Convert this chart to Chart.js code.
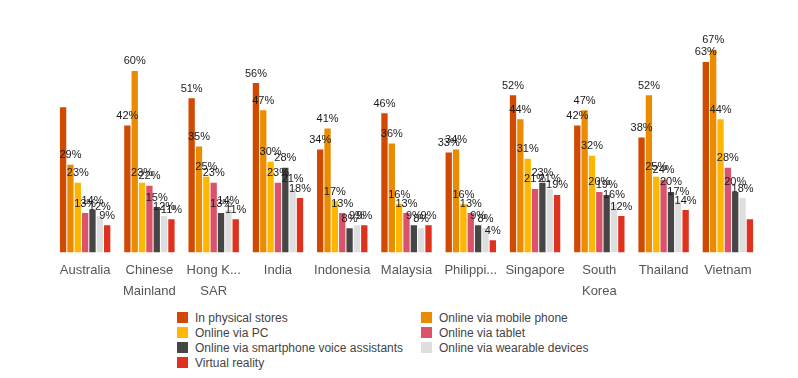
<!DOCTYPE html>
<html>
<head>
<meta charset="utf-8">
<script src="https://cdn.jsdelivr.net/npm/chart.js@4/dist/chart.umd.min.js"></script>
<style>
  body { margin: 0; background: #fff; }
  #wrap { position: relative; width: 798px; height: 378px; }
  #legend {
    position: absolute; left: 177px; top: 311px;
    display: grid; grid-template-columns: 244px 200px;
    font: 12px "Liberation Sans", Arial, sans-serif; color: #444;
  }
  #legend div { height: 15px; line-height: 15px; white-space: nowrap; }
  #legend span { display: inline-block; width: 11px; height: 11px; margin-right: 7px; vertical-align: -1px; }
</style>
</head>
<body>
<div id="wrap">
  <canvas id="myChart" width="798" height="302"></canvas>
  <div id="legend"></div>
</div>
<script>
"use strict";

const countries = ["Australia", ["Chinese", "Mainland"], ["Hong K...", "SAR"], "India", "Indonesia",
  "Malaysia", "Philippi...", "Singapore", ["South", "Korea"], "Thailand", "Vietnam"];

const seriesNames = ["In physical stores", "Online via mobile phone", "Online via PC", "Online via tablet",
  "Online via smartphone voice assistants", "Online via wearable devices", "Virtual reality"];
const seriesColors = ["#d04a02", "#eb8c00", "#ffb600", "#db536a", "#464646", "#dedede", "#e0301e"];

const physicalStores = [48, 42, 51, 56, 34, 46, 33, 52, 42, 38, 63];
const mobilePhone    = [29, 60, 35, 47, 41, 36, 34, 44, 47, 52, 67];
const viaPC          = [23, 23, 25, 30, 17, 16, 16, 31, 32, 25, 44];
const viaTablet      = [13, 22, 23, 23, 13, 13, 13, 21, 20, 24, 28];
const voiceAssist    = [14, 15, 13, 28, 8, 9, 9, 23, 19, 20, 20];
const wearables      = [12, 12, 14, 21, 9, 8, 8, 21, 16, 17, 18];
const virtualReality = [9, 11, 11, 18, 9, 9, 4, 19, 12, 14, 11];

// labels that the reference leaves out (series-category)
const hiddenLabels = ["0-0", "6-10"];

const allSeries = [physicalStores, mobilePhone, viaPC, viaTablet, voiceAssist, wearables, virtualReality];

const valueLabels = {
  id: "valueLabels",
  afterDatasetsDraw(chart) {
    const ctx = chart.ctx;
    ctx.save();
    ctx.font = "11px 'Liberation Sans', Arial, sans-serif";
    ctx.fillStyle = "#1a1a1a";
    ctx.textAlign = "center";
    ctx.textBaseline = "bottom";
    chart.data.datasets.forEach((ds, i) => {
      chart.getDatasetMeta(i).data.forEach((bar, j) => {
        if (hiddenLabels.includes(i + "-" + j)) return;
        ctx.fillText(ds.data[j] + "%", bar.x, bar.y - 4);
      });
    });
    ctx.restore();
  }
};

const ctx = document.getElementById("myChart").getContext("2d");
const myChart = new Chart(ctx, {
  type: "bar",
  data: {
    labels: countries,
    datasets: allSeries.map((d, i) => ({
      label: seriesNames[i],
      data: d,
      backgroundColor: seriesColors[i],
      barPercentage: 0.86,
      categoryPercentage: 0.8,
    })),
  },
  options: {
    responsive: false,
    animation: false,
    layout: { padding: { left: 53, right: 38, top: 12, bottom: 0 } },
    plugins: { legend: { display: false }, tooltip: { enabled: false } },
    scales: {
      y: { display: false, min: 0, max: 79.5 },
      x: {
        grid: { display: false },
        border: { display: false },
        ticks: {
          color: "#555",
          padding: 0,
          maxRotation: 0,
          autoSkip: false,
          font: { family: "'Liberation Sans', Arial, sans-serif", size: 13, lineHeight: 1.6 },
        },
      },
    },
  },
  plugins: [valueLabels],
});

// two-column legend, same order as the reference
const legend = document.getElementById("legend");
seriesNames.forEach((name, i) => {
  const item = document.createElement("div");
  const box = document.createElement("span");
  box.style.background = seriesColors[i];
  item.appendChild(box);
  item.appendChild(document.createTextNode(name));
  legend.appendChild(item);
});
</script>
</body>
</html>
